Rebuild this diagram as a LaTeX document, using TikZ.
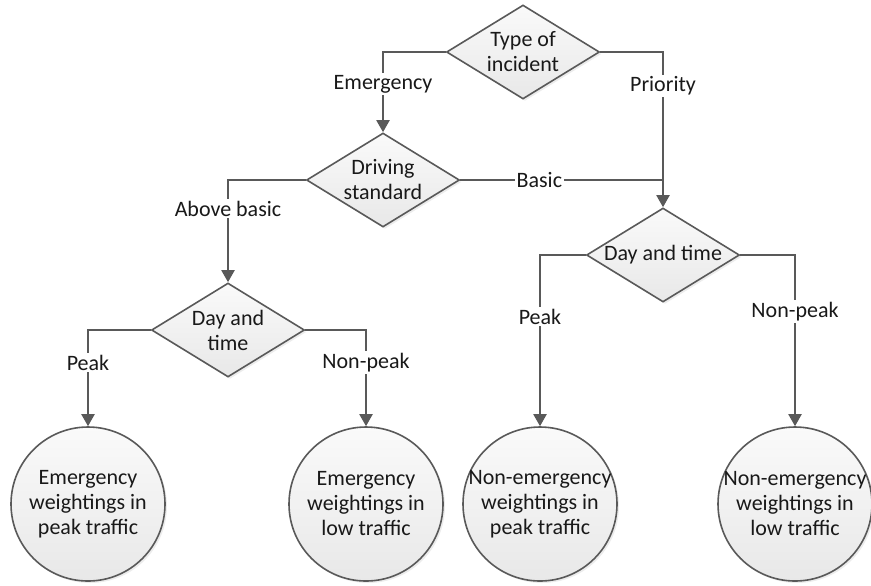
\documentclass[tikz,border=0pt]{standalone}
\usepackage{fontspec}
\setmainfont{Carlito}
\usetikzlibrary{shapes.geometric,arrows.meta,shadows}
\begin{document}
\begin{tikzpicture}[
            x=0.5pt, y=-0.5pt,
            font=\fontsize{11}{12.5}\selectfont,
            every node/.style={text=black!90},
            decision node/.style={diamond,draw=black!65,line width=0.8pt,top color=black!2,bottom color=black!9,
                aspect=1.63,inner sep=-0.5pt,minimum width=76.5pt,minimum height=47pt,align=center,
                drop shadow={shadow xshift=1pt,shadow yshift=-1pt,opacity=0.15}},
            result node/.style={circle,draw=black!65,line width=0.8pt,top color=black!2,bottom color=black!9,
                inner sep=-5pt,minimum size=77pt,align=center,
                drop shadow={shadow xshift=1pt,shadow yshift=-1pt,opacity=0.15}},
            link/.style={draw=black!65,line width=1pt,-{Triangle[length=6pt,width=6.5pt]}},
            plain link/.style={draw=black!65,line width=1pt},
            choice/.style={fill=white,inner sep=1pt}]
            \useasboundingbox (0,0) rectangle (871,585);
                    % Define vertices
            \node[decision node] (type) at (523,52) {Type of\\incident};
            \node[decision node] (drive) at (383,180) {Driving\\standard};
            \node[decision node] (dayR) at (663,255) {Day and time};
            \node[decision node] (dayL) at (228,330) {Day and\\time};
            \node[result node] (emPeak) at (88,504) {Emergency\\weightings in\\peak traffic};
            \node[result node] (emLow) at (366,504) {Emergency\\weightings in\\low traffic};
            \node[result node] (nePeak) at (540,504) {Non-emergency\\weightings in\\peak traffic};
            \node[result node] (neLow) at (795,504) {Non-emergency\\weightings in\\low traffic};
                    % Define edges
            \draw[link] (type.west) -| node[choice,pos=0.70] {Emergency} (drive.north);
            \draw[link] (type.east) -| node[choice,pos=0.61] {Priority} (dayR.north);
            \draw[plain link] (drive.east) -- node[choice,pos=0.39] {Basic} (drive.east -| dayR.north);
            \draw[link] (drive.west) -| node[choice,pos=0.64] {Above basic} (dayL.north);
            \draw[link] (dayL.west) -| node[choice,pos=0.67] {Peak} (emPeak.north);
            \draw[link] (dayL.east) -| node[choice,pos=0.67] {Non-peak} (emLow.north);
            \draw[link] (dayR.west) -| node[choice,pos=0.68] {Peak} (nePeak.north);
            \draw[link] (dayR.east) -| node[choice,pos=0.665] {Non-peak} (neLow.north);
        \end{tikzpicture}
\end{document}
